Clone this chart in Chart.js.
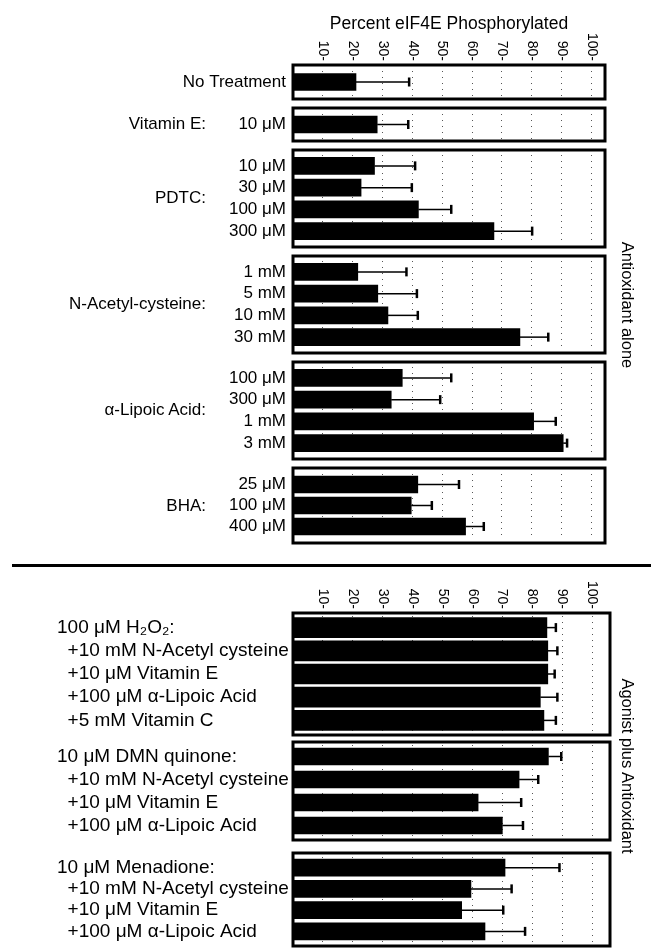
<!DOCTYPE html>
<html lang="en">
  <head>
    <meta charset="UTF-8" />
    <title>Percent eIF4E Phosphorylated</title>
    <script src="https://cdn.jsdelivr.net/npm/chart.js"></script>
    <style>
      body { margin: 0; background: #fff; font-family: "Liberation Sans", Arial, sans-serif; }
      #fig { position: relative; width: 651px; height: 948px; overflow: hidden; }
      #fig canvas { position: absolute; left: 0; }
      .txt { position: absolute; color: #000; white-space: nowrap; z-index: 2; }
      .grp { left: 0; width: 206px; text-align: right; font-size: 17px; transform: translateY(-50%); }
      .side { font-size: 16.5px; writing-mode: vertical-rl; transform: translate(-50%, -50%); }
    </style>
  </head>
  <body>
    <div id="fig">
      <div class="txt" style="left:293px;width:312px;top:13px;text-align:center;font-size:17.5px;">Percent eIF4E Phosphorylated</div>
      <div class="txt grp" style="top:124px;">Vitamin E:</div>
      <div class="txt grp" style="top:198px;">PDTC:</div>
      <div class="txt grp" style="top:304px;">N-Acetyl-cysteine:</div>
      <div class="txt grp" style="top:410px;">α-Lipoic Acid:</div>
      <div class="txt grp" style="top:506px;">BHA:</div>
      <div style="position:absolute;left:12px;right:0;top:564px;height:3px;background:#000;"></div>
      <div class="txt side" style="left:627px;top:305px;">Antioxidant alone</div>
      <div class="txt side" style="left:627px;top:766px;">Agonist plus Antioxidant</div>
    </div>

    <script>
      // axis ticks (percent)
      const tickValues = [10, 20, 30, 40, 50, 60, 70, 80, 90, 100];

      // Antioxidant alone
      const noTreatLabels = ["No Treatment"];
      const noTreatValues = [21.1];
      const noTreatErr = [17.8];

      const vitELabels = ["10 μM"];
      const vitEValues = [28.2];
      const vitEErr = [10.4];

      const pdtcLabels = ["10 μM", "30 μM", "100 μM", "300 μM"];
      const pdtcValues = [27.3, 22.8, 42.0, 67.3];
      const pdtcErr = [13.6, 17.0, 11.0, 12.8];

      const nacLabels = ["1 mM", "5 mM", "10 mM", "30 mM"];
      const nacValues = [21.7, 28.4, 31.8, 76.0];
      const nacErr = [16.3, 13.1, 10.0, 9.5];

      const lipoicLabels = ["100 μM", "300 μM", "1 mM", "3 mM"];
      const lipoicValues = [36.6, 32.9, 80.6, 90.5];
      const lipoicErr = [16.4, 16.4, 7.4, 1.3];

      const bhaLabels = ["25 μM", "100 μM", "400 μM"];
      const bhaValues = [41.8, 39.6, 57.8];
      const bhaErr = [13.8, 6.9, 6.1];

      // Agonist plus antioxidant
      const h2o2Labels = ["100 μM H₂O₂:", "+10 mM N-Acetyl cysteine", "+10 μM Vitamin E", "+100 μM α-Lipoic Acid", "+5 mM Vitamin C"];
      const h2o2Values = [84.9, 85.2, 85.2, 82.7, 83.9];
      const h2o2Err = [3.0, 3.2, 2.3, 5.7, 4.0];

      const dmnLabels = ["10 μM DMN quinone:", "+10 mM N-Acetyl cysteine", "+10 μM Vitamin E", "+100 μM α-Lipoic Acid"];
      const dmnValues = [85.4, 75.6, 61.9, 70.0];
      const dmnErr = [4.3, 6.4, 14.4, 6.9];

      const menLabels = ["10 μM Menadione:", "+10 mM N-Acetyl cysteine", "+10 μM Vitamin E", "+100 μM α-Lipoic Acid"];
      const menValues = [70.9, 59.5, 56.4, 64.2];
      const menErr = [18.2, 13.6, 13.9, 13.4];

      const FONT = '"Liberation Sans", Arial, sans-serif';

      // box around the plot area
      const frame = {
        id: "frame",
        afterDraw(chart, args, opts) {
          const a = chart.chartArea, ctx = chart.ctx;
          ctx.save();
          ctx.lineWidth = 3;
          ctx.strokeStyle = "#000";
          ctx.strokeRect(a.left, a.top - opts.pad, a.right - a.left, a.bottom - a.top + 2 * opts.pad);
          ctx.restore();
        },
      };

      // one-sided error bars
      const errorBars = {
        id: "errorBars",
        afterDatasetsDraw(chart) {
          const ds = chart.data.datasets[0];
          const meta = chart.getDatasetMeta(0);
          const xs = chart.scales.x, ctx = chart.ctx;
          ctx.save();
          ctx.strokeStyle = "#000";
          meta.data.forEach((bar, i) => {
            const x0 = xs.getPixelForValue(ds.data[i]);
            const x1 = xs.getPixelForValue(ds.data[i] + ds.errors[i]);
            ctx.lineWidth = 1.5;
            ctx.beginPath();
            ctx.moveTo(x0, bar.y);
            ctx.lineTo(x1, bar.y);
            ctx.stroke();
            ctx.lineWidth = 2.5;
            ctx.beginPath();
            ctx.moveTo(x1, bar.y - 4.5);
            ctx.lineTo(x1, bar.y + 4.5);
            ctx.stroke();
          });
          ctx.restore();
        },
      };

      // rotated tick labels above the first box of each section
      const topTicks = {
        id: "topTicks",
        afterDraw(chart, args, opts) {
          if (!opts.show) return;
          const xs = chart.scales.x, ctx = chart.ctx;
          const yEnd = chart.chartArea.top - opts.pad - 4;
          ctx.save();
          ctx.fillStyle = "#000";
          ctx.font = "14px " + FONT;
          ctx.textAlign = "right";
          ctx.textBaseline = "middle";
          tickValues.forEach((v) => {
            ctx.save();
            ctx.translate(xs.getPixelForValue(v), yEnd);
            ctx.rotate(Math.PI / 2);
            ctx.fillText(v + "-", 0, 0);
            ctx.restore();
          });
          ctx.restore();
        },
      };

      const panels = [
        { labels: noTreatLabels, values: noTreatValues, err: noTreatErr, top: 65, bottom: 99, right: 605, max: 104.5, bar: 17, pad: 0, axisTop: 0 },
        { labels: vitELabels, values: vitEValues, err: vitEErr, top: 108, bottom: 141, right: 605, max: 104.5, bar: 17, pad: 0 },
        { labels: pdtcLabels, values: pdtcValues, err: pdtcErr, top: 150, bottom: 247, right: 605, max: 104.5, bar: 17, pad: 5 },
        { labels: nacLabels, values: nacValues, err: nacErr, top: 256, bottom: 353, right: 605, max: 104.5, bar: 17, pad: 5 },
        { labels: lipoicLabels, values: lipoicValues, err: lipoicErr, top: 362, bottom: 459, right: 605, max: 104.5, bar: 17, pad: 5 },
        { labels: bhaLabels, values: bhaValues, err: bhaErr, top: 468, bottom: 543, right: 605, max: 104.5, bar: 17, pad: 6 },
        { labels: h2o2Labels, values: h2o2Values, err: h2o2Err, top: 613, bottom: 735, right: 610, max: 106, bar: 20, pad: 3, axisTop: 572, left: 57 },
        { labels: dmnLabels, values: dmnValues, err: dmnErr, top: 742, bottom: 840, right: 610, max: 106, bar: 17, pad: 3, left: 57 },
        { labels: menLabels, values: menValues, err: menErr, top: 853, bottom: 946, right: 610, max: 106, bar: 17, pad: 4, left: 57 },
      ];

      const fig = document.getElementById("fig");

      panels.forEach((p) => {
        const hasAxis = p.axisTop !== undefined;
        const left = p.left || 0;
        const cTop = hasAxis ? p.axisTop : p.top - 2;
        const cv = document.createElement("canvas");
        cv.width = 651;
        cv.height = p.bottom + 2 - cTop;
        cv.style.top = cTop + "px";
        fig.appendChild(cv);

        new Chart(cv, {
          type: "bar",
          data: {
            labels: p.labels,
            datasets: [
              {
                data: p.values,
                errors: p.err,
                backgroundColor: "#000",
                borderWidth: 0,
                barThickness: p.bar,
              },
            ],
          },
          options: {
            indexAxis: "y",
            responsive: false,
            animation: false,
            layout: {
              padding: { left: left, right: 651 - p.right, top: p.top - cTop + p.pad, bottom: 2 + p.pad },
            },
            plugins: {
              legend: { display: false },
              tooltip: { enabled: false },
              frame: { pad: p.pad },
              topTicks: { show: hasAxis, pad: p.pad },
            },
            scales: {
              x: {
                min: 0,
                max: p.max,
                afterFit: (s) => {
                  s.height = 0;
                  s.paddingLeft = 0;
                  s.paddingRight = 0;
                },
                afterBuildTicks: (s) => { s.ticks = tickValues.map((v) => ({ value: v })); },
                ticks: { display: false },
                grid: { color: "#555", lineWidth: 1, drawTicks: false },
                border: { display: false, dash: [1, 5] },
              },
              y: {
                afterFit: (s) => {
                  s.width = 293 - left;
                  s.paddingTop = 0;
                  s.paddingBottom = 0;
                },
                grid: { display: false, drawTicks: false },
                border: { display: false },
                ticks: {
                  autoSkip: false,
                  color: "#000",
                  padding: 7,
                  font: { family: FONT, size: left ? 19 : 17 },
                  crossAlign: left ? "far" : "near",
                  callback: function (v, i) {
                    const t = this.getLabelForValue(v);
                    return left && i ? "  " + t : t;
                  },
                },
              },
            },
          },
          plugins: [frame, errorBars, topTicks],
        });
      });
    </script>
  </body>
</html>
